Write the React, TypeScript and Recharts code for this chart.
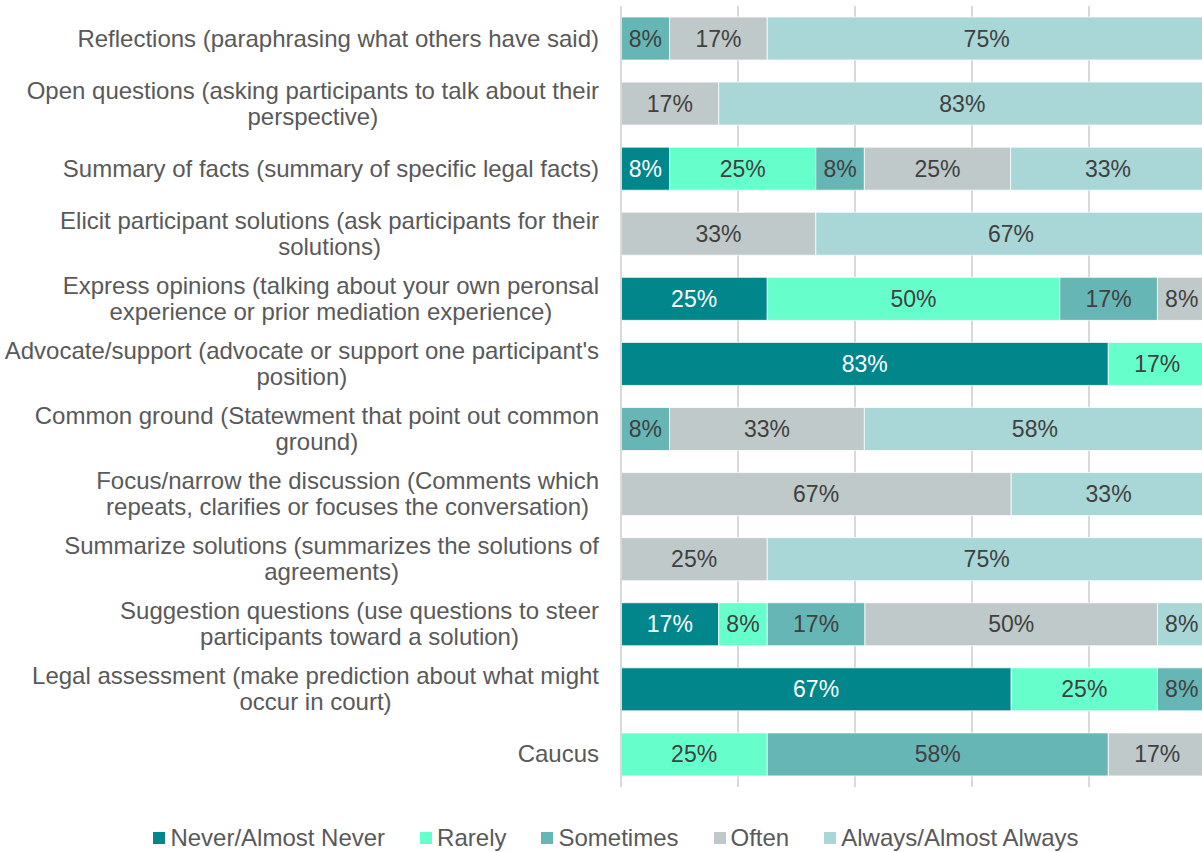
import React from "react";
import { BarChart, Bar, XAxis, YAxis, CartesianGrid, LabelList, Legend } from "recharts";

const CATEGORIES = [
  "Reflections (paraphrasing what others have said)",
  "Open questions (asking participants to talk about their\nperspective)",
  "Summary of facts (summary of specific legal facts)",
  "Elicit participant solutions (ask participants for their\nsolutions)",
  "Express opinions (talking about your own peronsal\nexperience or prior mediation experience)",
  "Advocate/support (advocate or support one participant's\nposition)",
  "Common ground (Statewment that point out common\nground)",
  "Focus/narrow the discussion (Comments which\nrepeats, clarifies or focuses the conversation)",
  "Summarize solutions (summarizes the solutions of\nagreements)",
  "Suggestion questions (use questions to steer\nparticipants toward a solution)",
  "Legal assessment (make prediction about what might\noccur in court)",
  "Caucus",
];

const NEVER = [0, 0, 8.3, 0, 25, 83.3, 0, 0, 0, 16.7, 66.7, 0];
const RARELY = [0, 0, 25, 0, 50, 16.7, 0, 0, 0, 8.3, 25, 25];
const SOMETIMES = [8.3, 0, 8.3, 0, 16.7, 0, 8.3, 0, 0, 16.7, 8.3, 58.3];
const OFTEN = [16.7, 16.7, 25, 33.3, 8.3, 0, 33.3, 66.7, 25, 50, 0, 16.7];
const ALWAYS = [75, 83.3, 33.3, 66.7, 0, 0, 58.3, 33.3, 75, 8.3, 0, 0];

const X_TICKS = [0, 20, 40, 60, 80, 100];

const SERIES = [
  { key: "never", name: "Never/Almost Never", color: "#00868B", label: "#FFFFFF" },
  { key: "rarely", name: "Rarely", color: "#66FFCC", label: "#404040" },
  { key: "sometimes", name: "Sometimes", color: "#66B6B6", label: "#404040" },
  { key: "often", name: "Often", color: "#BFC9C9", label: "#404040" },
  { key: "always", name: "Always/Almost Always", color: "#A9D6D6", label: "#404040" },
];

const data = CATEGORIES.map((name, i) => ({
  name,
  never: NEVER[i],
  rarely: RARELY[i],
  sometimes: SOMETIMES[i],
  often: OFTEN[i],
  always: ALWAYS[i],
}));

const FONT = '"Liberation Sans", Arial, sans-serif';
const TEXT = "#595959";
const CAT_SIZE = 24;
const LABEL_SIZE = 23;

let ctx: CanvasRenderingContext2D | null = null;
function measure(s: string): number {
  if (!ctx) {
    const c = document.createElement("canvas");
    ctx = c.getContext("2d");
  }
  if (!ctx) return s.length * 12;
  ctx.font = `${CAT_SIZE}px ${FONT}`;
  return ctx.measureText(s).width;
}

const WrappedTick = (props: any) => {
  const { x, y, payload } = props;
  const lines: string[] = String(payload.value).split("\n");
  if (lines.length === 1) {
    return (
      <text x={x} y={y} dy={8} textAnchor="end" fill={TEXT} fontSize={CAT_SIZE} fontFamily={FONT}>
        {lines[0]}
      </text>
    );
  }
  const maxW = Math.max(...lines.map(measure));
  const cx = x - maxW / 2;
  const lh = 26;
  const startY = y - ((lines.length - 1) * lh) / 2 + 8;
  return (
    <text textAnchor="middle" fill={TEXT} fontSize={CAT_SIZE} fontFamily={FONT}>
      {lines.map((l, i) => (
        <tspan key={i} x={cx} y={startY + i * lh}>
          {l}
        </tspan>
      ))}
    </text>
  );
};

const makeLabel = (color: string) => (props: any) => {
  const { x, y, width, height, value } = props;
  if (!value || value <= 0) return null;
  return (
    <text
      x={x + width / 2}
      y={y + height / 2}
      dy={8}
      textAnchor="middle"
      fill={color}
      fontSize={LABEL_SIZE}
      fontFamily={FONT}
    >
      {Math.round(value)}%
    </text>
  );
};

const LegendContent = () => (
  <div
    style={{
      display: "flex",
      justifyContent: "center",
      alignItems: "center",
      fontFamily: FONT,
      fontSize: 24,
      lineHeight: "28px",
      color: TEXT,
      gap: 35,
      whiteSpace: "nowrap",
      paddingLeft: 30,
    }}
  >
    {SERIES.map((s) => (
      <div key={s.key} style={{ display: "flex", alignItems: "center" }}>
        <span style={{ width: 12, height: 12, background: s.color, display: "inline-block", marginRight: 5 }} />
        <span>{s.name}</span>
      </div>
    ))}
  </div>
);

export default function App() {
  return (
    <div style={{ width: 1202, height: 852, overflow: "hidden", position: "relative" }}>
      <style>{`body{margin:0;overflow:hidden;background:#fff}`}</style>
      <BarChart
        width={1210}
        height={852}
        data={data}
        layout="vertical"
        margin={{ top: 6, right: 4, bottom: 65, left: 0 }}
        barSize={43}
      >
        <CartesianGrid horizontal={false} stroke="#D9D9D9" strokeWidth={2} />
        <XAxis type="number" domain={[0, 100]} ticks={X_TICKS} hide />
        <YAxis
          type="category"
          dataKey="name"
          width={621}
          tickSize={0}
          tickMargin={22}
          tickLine={false}
          interval={0}
          axisLine={{ stroke: "#D9D9D9", strokeWidth: 2 }}
          tick={<WrappedTick />}
        />
        <Legend
          content={<LegendContent />}
          wrapperStyle={{ top: 824, left: 0, width: 1202, height: 0, overflow: "visible" }}
        />
        {SERIES.map((s) => (
          <Bar
            key={s.key}
            dataKey={s.key}
            name={s.name}
            stackId="a"
            fill={s.color}
            stroke="#FFFFFF"
            strokeWidth={0.75}
            isAnimationActive={false}
          >
            <LabelList dataKey={s.key} content={makeLabel(s.label)} />
          </Bar>
        ))}
      </BarChart>
    </div>
  );
}
